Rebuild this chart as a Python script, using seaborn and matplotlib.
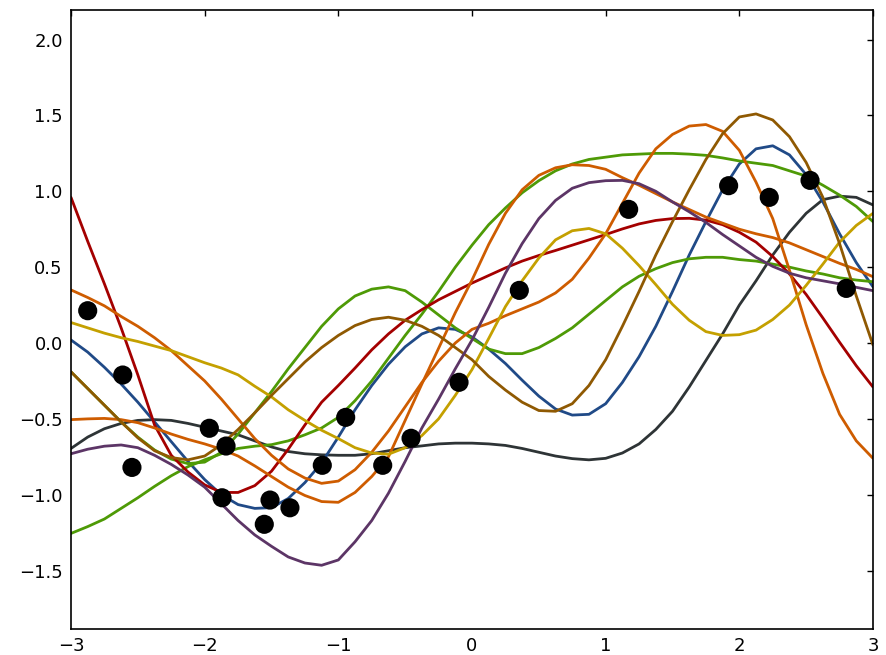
import numpy as np
import pandas as pd
import matplotlib
matplotlib.use("Agg")
import matplotlib.pyplot as plt
import seaborn as sns

# common x grid of the sampled curves
x_grid = [-3.0, -2.875, -2.75, -2.625, -2.5, -2.375, -2.25, -2.125,
          -2.0, -1.875, -1.75, -1.625, -1.5, -1.375, -1.25, -1.125,
          -1.0, -0.875, -0.75, -0.625, -0.5, -0.375, -0.25, -0.125,
          0.0, 0.125, 0.25, 0.375, 0.5, 0.625, 0.75, 0.875,
          1.0, 1.125, 1.25, 1.375, 1.5, 1.625, 1.75, 1.875,
          2.0, 2.125, 2.25, 2.375, 2.5, 2.625, 2.75, 2.875, 3.0]

red = [0.96, 0.67, 0.39, 0.10, -0.21, -0.54, -0.74, -0.85,
       -0.935, -0.985, -0.985, -0.94, -0.845, -0.70, -0.54, -0.39,
       -0.28, -0.165, -0.045, 0.06, 0.15, 0.22, 0.285, 0.34,
       0.395, 0.445, 0.495, 0.54, 0.577, 0.61, 0.645, 0.68,
       0.715, 0.752, 0.785, 0.808, 0.82, 0.822, 0.81, 0.78,
       0.73, 0.665, 0.57, 0.455, 0.32, 0.165, 0.005, -0.15, -0.29]
blue = [0.02, -0.06, -0.16, -0.27, -0.39, -0.52, -0.65, -0.78,
        -0.90, -1.00, -1.065, -1.09, -1.085, -1.025, -0.92, -0.79,
        -0.62, -0.44, -0.28, -0.14, -0.025, 0.06, 0.10, 0.09,
        0.04, -0.04, -0.135, -0.245, -0.35, -0.435, -0.475, -0.47,
        -0.40, -0.26, -0.09, 0.11, 0.34, 0.58, 0.80, 1.01,
        1.18, 1.28, 1.30, 1.24, 1.11, 0.93, 0.72, 0.53, 0.37]
gray = [-0.695, -0.62, -0.565, -0.53, -0.51, -0.505, -0.51, -0.53,
        -0.555, -0.58, -0.605, -0.645, -0.685, -0.715, -0.73, -0.737,
        -0.74, -0.74, -0.73, -0.71, -0.69, -0.678, -0.665, -0.66,
        -0.66, -0.665, -0.675, -0.695, -0.72, -0.745, -0.762, -0.77,
        -0.76, -0.725, -0.665, -0.57, -0.45, -0.29, -0.115, 0.06,
        0.25, 0.41, 0.58, 0.73, 0.855, 0.945, 0.968, 0.96, 0.91]
green_a = [-1.255, -1.21, -1.16, -1.09, -1.02, -0.945, -0.875, -0.815,
           -0.77, -0.73, -0.695, -0.68, -0.67, -0.645, -0.605, -0.56,
           -0.49, -0.38, -0.25, -0.10, 0.05, 0.19, 0.34, 0.50,
           0.645, 0.78, 0.89, 0.99, 1.07, 1.135, 1.18, 1.21,
           1.225, 1.24, 1.245, 1.25, 1.25, 1.245, 1.237, 1.22,
           1.20, 1.185, 1.17, 1.135, 1.10, 1.04, 0.975, 0.90, 0.80]
green_b = [-0.19, -0.30, -0.41, -0.52, -0.62, -0.705, -0.765, -0.795,
           -0.785, -0.72, -0.60, -0.46, -0.32, -0.17, -0.03, 0.11,
           0.225, 0.31, 0.355, 0.37, 0.345, 0.27, 0.185, 0.10,
           0.03, -0.04, -0.07, -0.07, -0.03, 0.03, 0.10, 0.19,
           0.28, 0.37, 0.44, 0.49, 0.53, 0.555, 0.565, 0.565,
           0.55, 0.54, 0.52, 0.50, 0.475, 0.455, 0.43, 0.415, 0.404]
brown = [-0.19, -0.30, -0.41, -0.52, -0.625, -0.71, -0.755, -0.77,
         -0.745, -0.67, -0.57, -0.46, -0.345, -0.235, -0.125, -0.03,
         0.05, 0.115, 0.155, 0.17, 0.15, 0.11, 0.05, -0.03,
         -0.11, -0.22, -0.31, -0.39, -0.445, -0.45, -0.40, -0.28,
         -0.11, 0.11, 0.34, 0.58, 0.80, 1.01, 1.21, 1.38,
         1.49, 1.51, 1.47, 1.36, 1.19, 0.96, 0.655, 0.31, -0.013]
orange_a = [0.35, 0.30, 0.245, 0.175, 0.11, 0.035, -0.05, -0.15,
            -0.25, -0.37, -0.50, -0.63, -0.74, -0.83, -0.89, -0.925,
            -0.91, -0.835, -0.72, -0.58, -0.42, -0.26, -0.12, 0.0,
            0.09, 0.13, 0.18, 0.225, 0.27, 0.33, 0.42, 0.56,
            0.72, 0.92, 1.12, 1.28, 1.375, 1.43, 1.44, 1.395,
            1.27, 1.06, 0.82, 0.48, 0.12, -0.20, -0.47, -0.645, -0.76]
orange_b = [-0.505, -0.50, -0.497, -0.505, -0.525, -0.56, -0.60, -0.635,
            -0.665, -0.70, -0.745, -0.81, -0.88, -0.95, -1.005, -1.045,
            -1.05, -0.985, -0.88, -0.75, -0.51, -0.27, -0.035, 0.20,
            0.415, 0.65, 0.855, 1.01, 1.105, 1.155, 1.175, 1.17,
            1.145, 1.09, 1.04, 0.985, 0.93, 0.88, 0.83, 0.79,
            0.75, 0.72, 0.695, 0.66, 0.615, 0.57, 0.525, 0.485, 0.437]
yellow = [0.135, 0.10, 0.065, 0.035, 0.01, -0.02, -0.05, -0.09,
          -0.13, -0.165, -0.21, -0.285, -0.355, -0.44, -0.51, -0.575,
          -0.63, -0.69, -0.725, -0.733, -0.69, -0.61, -0.50, -0.345,
          -0.175, 0.03, 0.24, 0.41, 0.56, 0.68, 0.74, 0.755,
          0.72, 0.625, 0.51, 0.385, 0.255, 0.15, 0.075, 0.05,
          0.055, 0.085, 0.155, 0.25, 0.38, 0.52, 0.665, 0.775, 0.855]
purple = [-0.73, -0.70, -0.68, -0.672, -0.69, -0.74, -0.80, -0.87,
          -0.95, -1.06, -1.17, -1.265, -1.34, -1.41, -1.45, -1.465,
          -1.43, -1.31, -1.17, -0.99, -0.78, -0.56, -0.37, -0.17,
          0.02, 0.235, 0.46, 0.655, 0.82, 0.94, 1.02, 1.057,
          1.07, 1.072, 1.05, 1.0, 0.93, 0.865, 0.795, 0.715,
          0.64, 0.565, 0.505, 0.46, 0.43, 0.41, 0.39, 0.367, 0.345]

# observed data points
obs_x = [-2.875, -2.613, -2.544, -1.965, -1.840, -1.870, -1.511, -1.554, -1.362, -1.120,
         -0.945, -0.668, -0.456, -0.097, 0.354, 1.172, 1.920, 2.224, 2.529, 2.800]
obs_y = [0.213, -0.211, -0.820, -0.562, -0.679, -1.020, -1.035, -1.195, -1.086, -0.806,
         -0.490, -0.806, -0.628, -0.259, 0.347, 0.881, 1.037, 0.960, 1.072, 0.360]

curves = {
    "gray": gray, "blue": blue, "green_a": green_a, "green_b": green_b, "red": red,
    "orange_a": orange_a, "orange_b": orange_b, "yellow": yellow, "brown": brown, "purple": purple,
}
palette = {
    "blue": "#204a87", "gray": "#2e3436", "green_a": "#4e9a06", "green_b": "#4e9a06",
    "red": "#a40000", "orange_a": "#ce5c00", "orange_b": "#ce5c00", "brown": "#8f5902",
    "yellow": "#c4a000", "purple": "#5c3566",
}

rows = []
for name, vals in curves.items():
    for xv, yv in zip(x_grid, vals):
        rows.append({"x": xv, "y": yv, "curve": name})
df = pd.DataFrame(rows)
obs = pd.DataFrame({"x": obs_x, "y": obs_y})

sns.set_style("white")
plt.rcParams["font.family"] = ["DejaVu Sans"]

fig = plt.figure(figsize=(8.87, 6.55), dpi=100)
ax = fig.add_axes([71 / 887, 1 - 629 / 655, (873 - 71) / 887, (629 - 10) / 655])

sns.lineplot(data=df, x="x", y="y", hue="curve", palette=palette, linewidth=2.0,
             legend=False, ax=ax, sort=True, estimator=None)
for ln in ax.lines:
    ln.set_solid_joinstyle("round")
    ln.set_solid_capstyle("round")
sns.scatterplot(data=obs, x="x", y="y", color="black", s=190, edgecolor="none",
                legend=False, ax=ax, zorder=5)

ax.set_xlim(-3, 3)
ax.set_ylim(-1.885, 2.195)
ax.set_xticks([-3, -2, -1, 0, 1, 2, 3])
ax.set_yticks([-1.5, -1.0, -0.5, 0.0, 0.5, 1.0, 1.5, 2.0])
ax.set_xlabel("")
ax.set_ylabel("")
ax.tick_params(direction="in", top=True, right=True, length=4, width=1,
               labelsize=13, pad=6, colors="black")
for sp in ax.spines.values():
    sp.set_linewidth(1.2)
    sp.set_color("black")

fig.savefig("out.png", dpi=100)
